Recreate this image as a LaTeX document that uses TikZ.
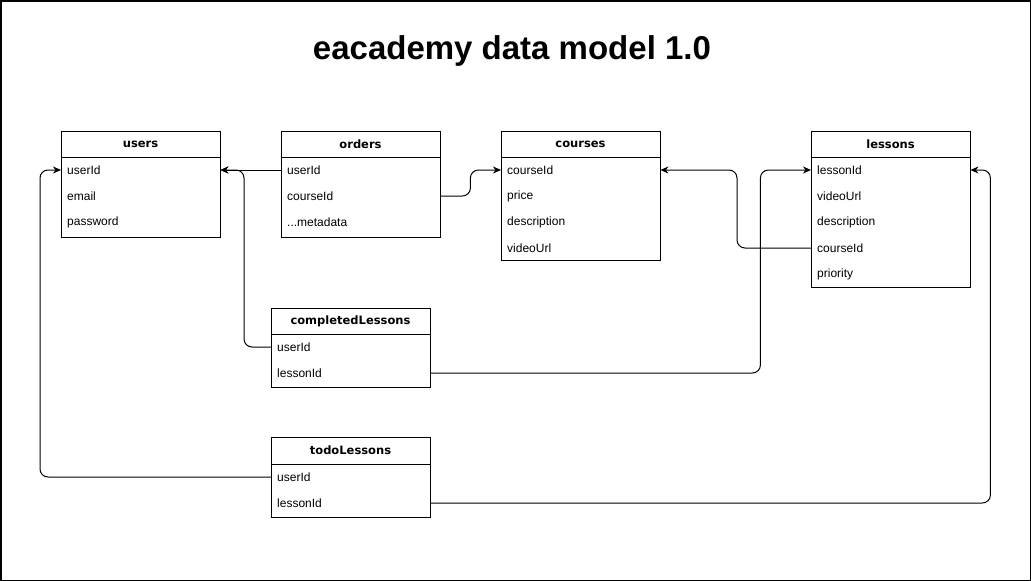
\documentclass[tikz,border=0pt]{standalone}
\usepackage{fontspec}
\setmainfont{Liberation Sans}
\newfontfamily\hdrfont{DejaVu Sans}
\usetikzlibrary{arrows.meta,positioning,calc}
\begin{document}
\begin{tikzpicture}[x=1pt,y=-1pt,
  tbl/.style={draw=black,line width=1pt,fill=white,anchor=north west,minimum width=159pt,inner sep=0pt},
  hdrline/.style={line width=1pt},
  hdr/.style={font=\hdrfont\fontsize{11.5}{14}\selectfont\bfseries,inner sep=0pt},
  fld/.style={font=\fontsize{12}{14}\selectfont,anchor=west,text width=147pt,align=left,inner xsep=6pt,inner ysep=0pt,minimum height=26pt},
  fk/.style={draw=black,line width=1pt,rounded corners=8pt,-{Stealth[length=8pt,width=7pt,inset=2.5pt]}},
  ttl/.style={font=\fontsize{33}{37}\selectfont\bfseries}
]
\useasboundingbox (0,0) rectangle (1031,581);
\draw[line width=1.5pt] (0.75,0.75) rectangle (1030.25,580.25);

\node[ttl] (title) at (512,51) {eacademy data model 1.0};

% users
\node[tbl,minimum height=106pt] (users) at (61,131) {};
\draw[hdrline] (61,157) -- (220,157);
\node[hdr] (users-h) at (140.5,144) {users};
\node[fld] (users-userId) at (61,170) {userId};
\node[fld] (users-email) at (61,196) {email};
\node[fld] (users-password) at (61,222) {password};

% orders
\node[tbl,minimum height=106pt] (orders) at (281,131) {};
\draw[hdrline] (281,157) -- (440,157);
\node[hdr] (orders-h) at (360.5,144) {orders};
\node[fld] (orders-userId) at (281,170) {userId};
\node[fld] (orders-courseId) at (281,196) {courseId};
\node[fld] (orders-meta) at (281,222) {...metadata};

% courses
\node[tbl,minimum height=129pt] (courses) at (501,131) {};
\draw[hdrline] (501,157) -- (660,157);
\node[hdr] (courses-h) at (580.5,144) {courses};
\node[fld] (courses-courseId) at (501,170) {courseId};
\node[fld] (courses-price) at (501,196) {price};
\node[fld] (courses-description) at (501,222) {description};
\node[fld] (courses-videoUrl) at (501,248) {videoUrl};

% lessons
\node[tbl,minimum height=156pt] (lessons) at (811,131) {};
\draw[hdrline] (811,157) -- (970,157);
\node[hdr] (lessons-h) at (890.5,144) {lessons};
\node[fld] (lessons-lessonId) at (811,170) {lessonId};
\node[fld] (lessons-videoUrl) at (811,196) {videoUrl};
\node[fld] (lessons-description) at (811,222) {description};
\node[fld] (lessons-courseId) at (811,248) {courseId};
\node[fld] (lessons-priority) at (811,274) {priority};

% completedLessons
\node[tbl,minimum height=79pt] (cl) at (271,308) {};
\draw[hdrline] (271,334) -- (430,334);
\node[hdr] (cl-h) at (350.5,321) {completedLessons};
\node[fld] (cl-userId) at (271,347) {userId};
\node[fld] (cl-lessonId) at (271,373) {lessonId};

% todoLessons
\node[tbl,minimum height=80pt] (todo) at (271,437) {};
\draw[hdrline] (271,464) -- (430,464);
\node[hdr] (todo-h) at (350.5,450.5) {todoLessons};
\node[fld] (todo-userId) at (271,477) {userId};
\node[fld] (todo-lessonId) at (271,503) {lessonId};

% connectors
\draw[fk] (orders-userId.west) -- (users-userId.east);
\draw[fk] (cl-userId.west) -- ++(-27,0) |- (users-userId.east);
\draw[fk] (orders-courseId.east) -- ++(30,0) |- (courses-courseId.west);
\draw[fk] (lessons-courseId.west) -- ++(-74,0) |- (courses-courseId.east);
\draw[fk] (cl-lessonId.east) -- ++(330,0) |- (lessons-lessonId.west);
\draw[fk] (todo-userId.west) -- ++(-231,0) |- (users-userId.west);
\draw[fk] (todo-lessonId.east) -- ++(560,0) |- (lessons-lessonId.east);
\end{tikzpicture}
\end{document}
